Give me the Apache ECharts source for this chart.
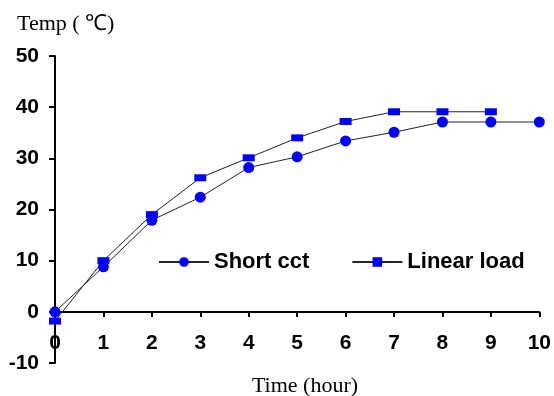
<!DOCTYPE html>
<html>
<head>
<meta charset="utf-8">
<script src="https://cdn.jsdelivr.net/npm/echarts@6/dist/echarts.min.js"></script>
<style>html,body{margin:0;padding:0;background:#fff;}#c{width:554px;height:396px;}</style>
</head>
<body>
<div id="c"></div>
<script>
const hours = [0, 1, 2, 3, 4, 5, 6, 7, 8, 9, 10];
const shortCct = [0, 8.8, 17.9, 22.4, 28.2, 30.3, 33.4, 35.1, 37.1, 37.1, 37.1];
const linearLoad = [-1.8, 10.0, 19.0, 26.2, 30.1, 34.0, 37.2, 39.1, 39.1, 39.1];
const yTicks = [-10, 0, 10, 20, 30, 40, 50];

const chart = echarts.init(document.getElementById('c'));
const sans = 'Liberation Sans, Arial, sans-serif';
const serif = 'Liberation Serif, Times New Roman, serif';
chart.setOption({
  animation: false,
  backgroundColor: '#fff',
  title: [
    { text: 'Temp ( ℃)', left: 12, top: 8, textStyle: { fontFamily: serif, fontSize: 22, fontWeight: 'normal', color: '#000' } },
    { text: 'Time (hour)', left: 300, textAlign: 'center', top: 370, textStyle: { fontFamily: serif, fontSize: 22, fontWeight: 'normal', color: '#000' } }
  ],
  legend: {
    left: 153, top: 246,
    itemWidth: 50, itemHeight: 12, itemGap: 42,
    textStyle: { fontFamily: sans, fontSize: 22, fontWeight: 'bold', color: '#000' },
    data: ['Short cct', 'Linear load']
  },
  grid: { left: 55, right: 13, top: 56, bottom: 33, containLabel: false },
  xAxis: {
    type: 'value', min: 0, max: 10, interval: 1,
    position: 'bottom', offset: -51,
    axisLine: { onZero: false, lineStyle: { color: '#000', width: 2 } },
    axisTick: { show: true, length: 5, lineStyle: { color: '#000', width: 2 } },
    axisLabel: { margin: 21, fontFamily: sans, fontSize: 21, fontWeight: 'bold', color: '#000', showMinLabel: true, showMaxLabel: true },
    splitLine: { show: false }
  },
  yAxis: {
    type: 'value', min: yTicks[0], max: yTicks[yTicks.length - 1], interval: 10,
    axisLine: { show: true, lineStyle: { color: '#000', width: 2 } },
    axisTick: { show: true, length: 6, lineStyle: { color: '#000', width: 2 } },
    axisLabel: { margin: 16, fontFamily: sans, fontSize: 21, fontWeight: 'bold', color: '#000' },
    splitLine: { show: false }
  },
  series: [
    {
      name: 'Short cct', type: 'line',
      data: shortCct.map((v, i) => [hours[i], v]),
      symbol: 'circle', symbolSize: 11,
      lineStyle: { color: '#222', width: 1 },
      itemStyle: { color: '#0000ff' }
    },
    {
      name: 'Linear load', type: 'line',
      data: linearLoad.map((v, i) => [hours[i], v]),
      symbol: 'rect', symbolSize: [12, 7],
      lineStyle: { color: '#222', width: 1 },
      itemStyle: { color: '#0000ff' }
    }
  ]
});
</script>
</body>
</html>
